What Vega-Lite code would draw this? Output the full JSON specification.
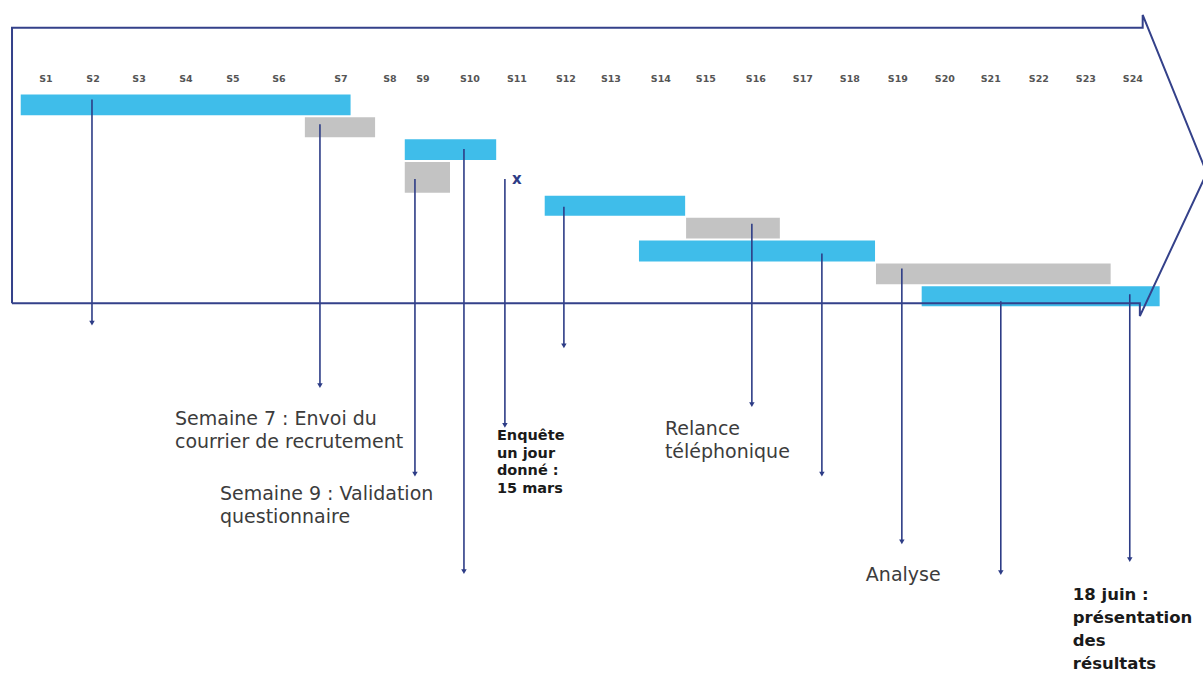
{
  "$schema": "https://vega.github.io/schema/vega-lite/v6.json",
  "width": 1203,
  "height": 673,
  "autosize": {"type": "fit", "contains": "padding"},
  "padding": 0,
  "background": "white",
  "config": {"view": {"stroke": null}},
  "datasets": {
    "bars": [
      {"task": "A", "kind": "blue", "x": 0.4, "x2": 7.4, "y": 95, "y2": 116},
      {"task": "B", "kind": "gray", "x": 6.43, "x2": 7.92, "y": 118, "y2": 138},
      {"task": "C", "kind": "blue", "x": 8.55, "x2": 10.49, "y": 140, "y2": 161},
      {"task": "D", "kind": "gray", "x": 8.55, "x2": 9.51, "y": 163, "y2": 194},
      {"task": "E", "kind": "blue", "x": 11.52, "x2": 14.5, "y": 197, "y2": 217},
      {"task": "F", "kind": "gray", "x": 14.52, "x2": 16.51, "y": 219, "y2": 240},
      {"task": "G", "kind": "blue", "x": 13.52, "x2": 18.53, "y": 242, "y2": 263},
      {"task": "H", "kind": "gray", "x": 18.55, "x2": 23.53, "y": 265, "y2": 286},
      {"task": "I", "kind": "blue", "x": 19.52, "x2": 24.57, "y": 288, "y2": 308}
    ],
    "outline": [
      {"i": 0, "x": 0.215, "y": 305},
      {"i": 1, "x": 0.215, "y": 28},
      {"i": 2, "x": 24.21, "y": 28},
      {"i": 3, "x": 24.21, "y": 15},
      {"i": 4, "x": 25.57, "y": 174},
      {"i": 5, "x": 24.15, "y": 318},
      {"i": 6, "x": 24.15, "y": 305},
      {"i": 7, "x": 0.215, "y": 305}
    ],
    "weeks": [
      {"w": "S1", "x": 0.936}, {"w": "S2", "x": 1.934}, {"w": "S3", "x": 2.91},
      {"w": "S4", "x": 3.907}, {"w": "S5", "x": 4.904}, {"w": "S6", "x": 5.88},
      {"w": "S7", "x": 7.196}, {"w": "S8", "x": 8.235}, {"w": "S9", "x": 8.936},
      {"w": "S10", "x": 9.933}, {"w": "S11", "x": 10.93}, {"w": "S12", "x": 11.97},
      {"w": "S13", "x": 12.925}, {"w": "S14", "x": 13.985}, {"w": "S15", "x": 14.94},
      {"w": "S16", "x": 16.001}, {"w": "S17", "x": 16.998}, {"w": "S18", "x": 17.995},
      {"w": "S19", "x": 19.014}, {"w": "S20", "x": 20.011}, {"w": "S21", "x": 20.987},
      {"w": "S22", "x": 22.006}, {"w": "S23", "x": 23.004}, {"w": "S24", "x": 24.001}
    ],
    "arrows": [
      {"x": 1.912, "y": 100, "y2": 325},
      {"x": 6.75, "y": 125, "y2": 388},
      {"x": 8.766, "y": 180, "y2": 477},
      {"x": 9.806, "y": 150, "y2": 575},
      {"x": 10.675, "y": 180, "y2": 428},
      {"x": 11.927, "y": 208, "y2": 348},
      {"x": 15.916, "y": 225, "y2": 407},
      {"x": 17.402, "y": 255, "y2": 477},
      {"x": 19.099, "y": 270, "y2": 545},
      {"x": 21.199, "y": 303, "y2": 576},
      {"x": 23.936, "y": 296, "y2": 563}
    ],
    "labels": [
      {"kind": "normal", "x": 3.674, "y": 422, "text": "Semaine 7 : Envoi du"},
      {"kind": "normal", "x": 3.674, "y": 445, "text": "courrier de recrutement"},
      {"kind": "normal", "x": 4.628, "y": 497, "text": "Semaine 9 : Validation"},
      {"kind": "normal", "x": 4.628, "y": 520, "text": "questionnaire"},
      {"kind": "normal", "x": 14.07, "y": 432, "text": "Relance"},
      {"kind": "normal", "x": 14.07, "y": 455, "text": "téléphonique"},
      {"kind": "normal", "x": 18.335, "y": 578, "text": "Analyse"},
      {"kind": "enquete", "x": 10.506, "y": 439, "text": "Enquête"},
      {"kind": "enquete", "x": 10.506, "y": 456.5, "text": "un jour"},
      {"kind": "enquete", "x": 10.506, "y": 474, "text": "donné :"},
      {"kind": "enquete", "x": 10.506, "y": 491.5, "text": "15 mars"},
      {"kind": "juin", "x": 22.727, "y": 599, "text": "18 juin :"},
      {"kind": "juin", "x": 22.727, "y": 622, "text": "présentation"},
      {"kind": "juin", "x": 22.727, "y": 645, "text": "des"},
      {"kind": "juin", "x": 22.727, "y": 668, "text": "résultats"}
    ],
    "marker": [
      {"x": 10.93, "y": 180, "text": "x"}
    ]
  },
  "layer": [
    {
      "data": {"name": "bars"},
      "mark": {"type": "rect"},
      "encoding": {
        "x": {"field": "x", "type": "quantitative", "scale": {"domain": [-0.04, 25.49], "nice": false, "zero": false}, "axis": null},
        "x2": {"field": "x2"},
        "y": {"field": "y", "type": "quantitative", "scale": {"domain": [0, 673], "nice": false, "zero": false, "reverse": true}, "axis": null},
        "y2": {"field": "y2"},
        "color": {"field": "kind", "type": "nominal", "scale": {"domain": ["blue", "gray"], "range": ["#3fbdea", "#c3c3c3"]}, "legend": null}
      }
    },
    {
      "data": {"name": "weeks"},
      "mark": {"type": "text", "font": "DejaVu Sans", "fontWeight": "bold", "fontSize": 9.5, "color": "#555555", "align": "center", "baseline": "middle"},
      "encoding": {
        "x": {"field": "x", "type": "quantitative"},
        "y": {"datum": 79, "type": "quantitative"},
        "text": {"field": "w"}
      }
    },
    {
      "data": {"name": "arrows"},
      "mark": {"type": "rule", "color": "#2d3c86", "strokeWidth": 1.6},
      "encoding": {
        "x": {"field": "x", "type": "quantitative"},
        "y": {"field": "y", "type": "quantitative"},
        "y2": {"field": "y2"}
      }
    },
    {
      "data": {"name": "arrows"},
      "mark": {"type": "point", "shape": "triangle-down", "filled": true, "size": 30, "color": "#2d3c86", "opacity": 1},
      "encoding": {
        "x": {"field": "x", "type": "quantitative"},
        "y": {"field": "y2", "type": "quantitative"}
      }
    },
    {
      "data": {"name": "outline"},
      "mark": {"type": "line", "color": "#34418a", "strokeWidth": 2, "clip": true},
      "encoding": {
        "x": {"field": "x", "type": "quantitative"},
        "y": {"field": "y", "type": "quantitative"},
        "order": {"field": "i", "type": "quantitative"}
      }
    },
    {
      "data": {"name": "labels"},
      "transform": [{"filter": "datum.kind === 'normal'"}],
      "mark": {"type": "text", "font": "DejaVu Sans", "fontSize": 19, "color": "#3c3c3c", "align": "left", "baseline": "middle"},
      "encoding": {
        "x": {"field": "x", "type": "quantitative"},
        "y": {"field": "y", "type": "quantitative"},
        "text": {"field": "text"}
      }
    },
    {
      "data": {"name": "labels"},
      "transform": [{"filter": "datum.kind === 'enquete'"}],
      "mark": {"type": "text", "font": "DejaVu Sans", "fontWeight": "bold", "fontSize": 14.5, "color": "#1a1a1a", "align": "left", "baseline": "middle"},
      "encoding": {
        "x": {"field": "x", "type": "quantitative"},
        "y": {"field": "y", "type": "quantitative"},
        "text": {"field": "text"}
      }
    },
    {
      "data": {"name": "labels"},
      "transform": [{"filter": "datum.kind === 'juin'"}],
      "mark": {"type": "text", "font": "DejaVu Sans", "fontWeight": "bold", "fontSize": 16.5, "color": "#1a1a1a", "align": "left", "baseline": "middle"},
      "encoding": {
        "x": {"field": "x", "type": "quantitative"},
        "y": {"field": "y", "type": "quantitative"},
        "text": {"field": "text"}
      }
    },
    {
      "data": {"name": "marker"},
      "mark": {"type": "text", "font": "DejaVu Sans", "fontWeight": "bold", "fontSize": 15, "color": "#2d3c86", "align": "center", "baseline": "middle"},
      "encoding": {
        "x": {"field": "x", "type": "quantitative"},
        "y": {"field": "y", "type": "quantitative"},
        "text": {"field": "text"}
      }
    }
  ]
}
